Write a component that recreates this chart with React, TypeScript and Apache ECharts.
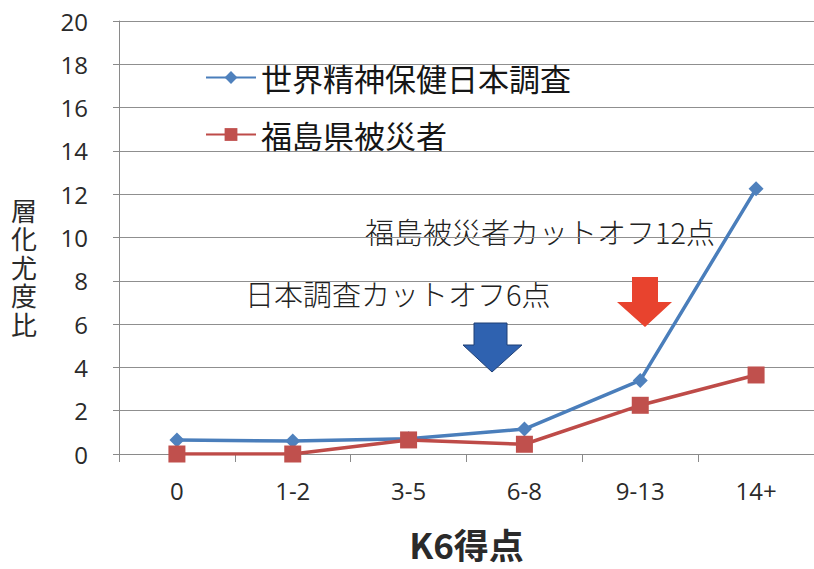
import React, { useEffect, useRef } from "react";
import * as echarts from "echarts";

// K6 score bands and stratum-specific likelihood ratios
const categories = ["0", "1-2", "3-5", "6-8", "9-13", "14+"];
const worldSurveyJapan = [0.65, 0.6, 0.7, 1.15, 3.4, 12.25];
const fukushimaEvacuees = [0.0, 0.0, 0.65, 0.45, 2.25, 3.65];
const seriesNames = ["世界精神保健日本調査", "福島県被災者"];
const yTicks = { min: 0, max: 20, interval: 2 };
const xAxisName = "K6得点";
const yAxisName = "層化尤度比";
const cutoffNotes = ["福島被災者カットオフ12点", "日本調査カットオフ6点"];

const CJK = '"Noto Sans CJK JP", "Noto Sans", sans-serif';
const NUM = '"Open Sans", "Noto Sans CJK JP", sans-serif';

export default function App() {
  const ref = useRef<HTMLDivElement>(null);

  useEffect(() => {
    if (!ref.current) return;
    const chart = echarts.init(ref.current, null, { renderer: "svg" });

    // vertical axis title, one glyph per text element
    const yNameGlyphs = yAxisName.split("").map((ch, i) => ({
      type: "text",
      x: 24,
      y: 209 + i * 28.5,
      style: {
        text: ch,
        fontFamily: CJK,
        fontSize: 26,
        fill: "#2a2a2a",
        align: "center",
        verticalAlign: "middle",
      },
    }));

    chart.setOption({
      animation: false,
      backgroundColor: "#ffffff",
      grid: { left: 119, top: 21, width: 702, height: 433 },
      legend: {
        orient: "vertical",
        left: 200,
        top: 56,
        itemWidth: 50,
        itemHeight: 16,
        itemGap: 24,
        textStyle: { fontFamily: CJK, fontSize: 31, lineHeight: 33, color: "#161616" },
        data: seriesNames,
      },
      xAxis: {
        type: "category",
        data: categories,
        boundaryGap: true,
        axisLine: { lineStyle: { color: "#8a8a8a", width: 1 } },
        axisTick: { show: true, length: 8, lineStyle: { color: "#8a8a8a" } },
        axisLabel: { fontFamily: NUM, fontSize: 24, color: "#2a2a2a", margin: 24 },
        name: xAxisName,
        nameLocation: "middle",
        nameGap: 72,
        nameTextStyle: { fontFamily: CJK, fontSize: 35, fontWeight: "bold", color: "#2a2a2a" },
      },
      yAxis: {
        type: "value",
        min: yTicks.min,
        max: yTicks.max,
        interval: yTicks.interval,
        axisLine: { show: true, lineStyle: { color: "#8a8a8a", width: 1 } },
        axisTick: { show: true, length: 6, lineStyle: { color: "#8a8a8a" } },
        axisLabel: { fontFamily: NUM, fontSize: 24, color: "#2a2a2a", margin: 31 },
        splitLine: { lineStyle: { color: "#8f8f8f", width: 1 } },
      },
      series: [
        {
          name: seriesNames[0],
          type: "line",
          data: worldSurveyJapan,
          symbol: "diamond",
          symbolSize: 15,
          lineStyle: { color: "#4a7ebb", width: 3.5 },
          itemStyle: { color: "#4f81bd" },
          z: 3,
        },
        {
          name: seriesNames[1],
          type: "line",
          data: fukushimaEvacuees,
          symbol: "rect",
          symbolSize: 17,
          lineStyle: { color: "#be4b48", width: 3.5 },
          itemStyle: { color: "#c0504d" },
          z: 4,
        },
      ],
      graphic: [
        ...yNameGlyphs,
        {
          type: "text",
          x: 365,
          y: 231,
          style: {
            text: cutoffNotes[0],
            fontFamily: CJK,
            fontSize: 29,
            fontWeight: 300,
            fill: "#222222",
            verticalAlign: "middle",
          },
        },
        {
          type: "text",
          x: 245,
          y: 293,
          style: {
            text: cutoffNotes[1],
            fontFamily: CJK,
            fontSize: 29,
            fontWeight: 300,
            fill: "#222222",
            verticalAlign: "middle",
          },
        },
        {
          type: "polygon",
          shape: {
            points: [
              [474, 323], [507, 323], [507, 345], [522, 345],
              [492, 372], [463, 345], [474, 345],
            ],
          },
          style: { fill: "#2f62b0", stroke: "#1f3f75", lineWidth: 1 },
          z: 10,
        },
        {
          type: "polygon",
          shape: {
            points: [
              [632, 277], [658, 277], [658, 302], [672, 302],
              [645, 327], [617, 302], [632, 302],
            ],
          },
          style: { fill: "#e8432e" },
          z: 10,
        },
      ],
    });
    return () => chart.dispose();
  }, []);

  return (
    <div
      ref={ref}
      style={{ position: "fixed", left: 0, top: 0, width: 814, height: 569, background: "#fff" }}
    />
  );
}
